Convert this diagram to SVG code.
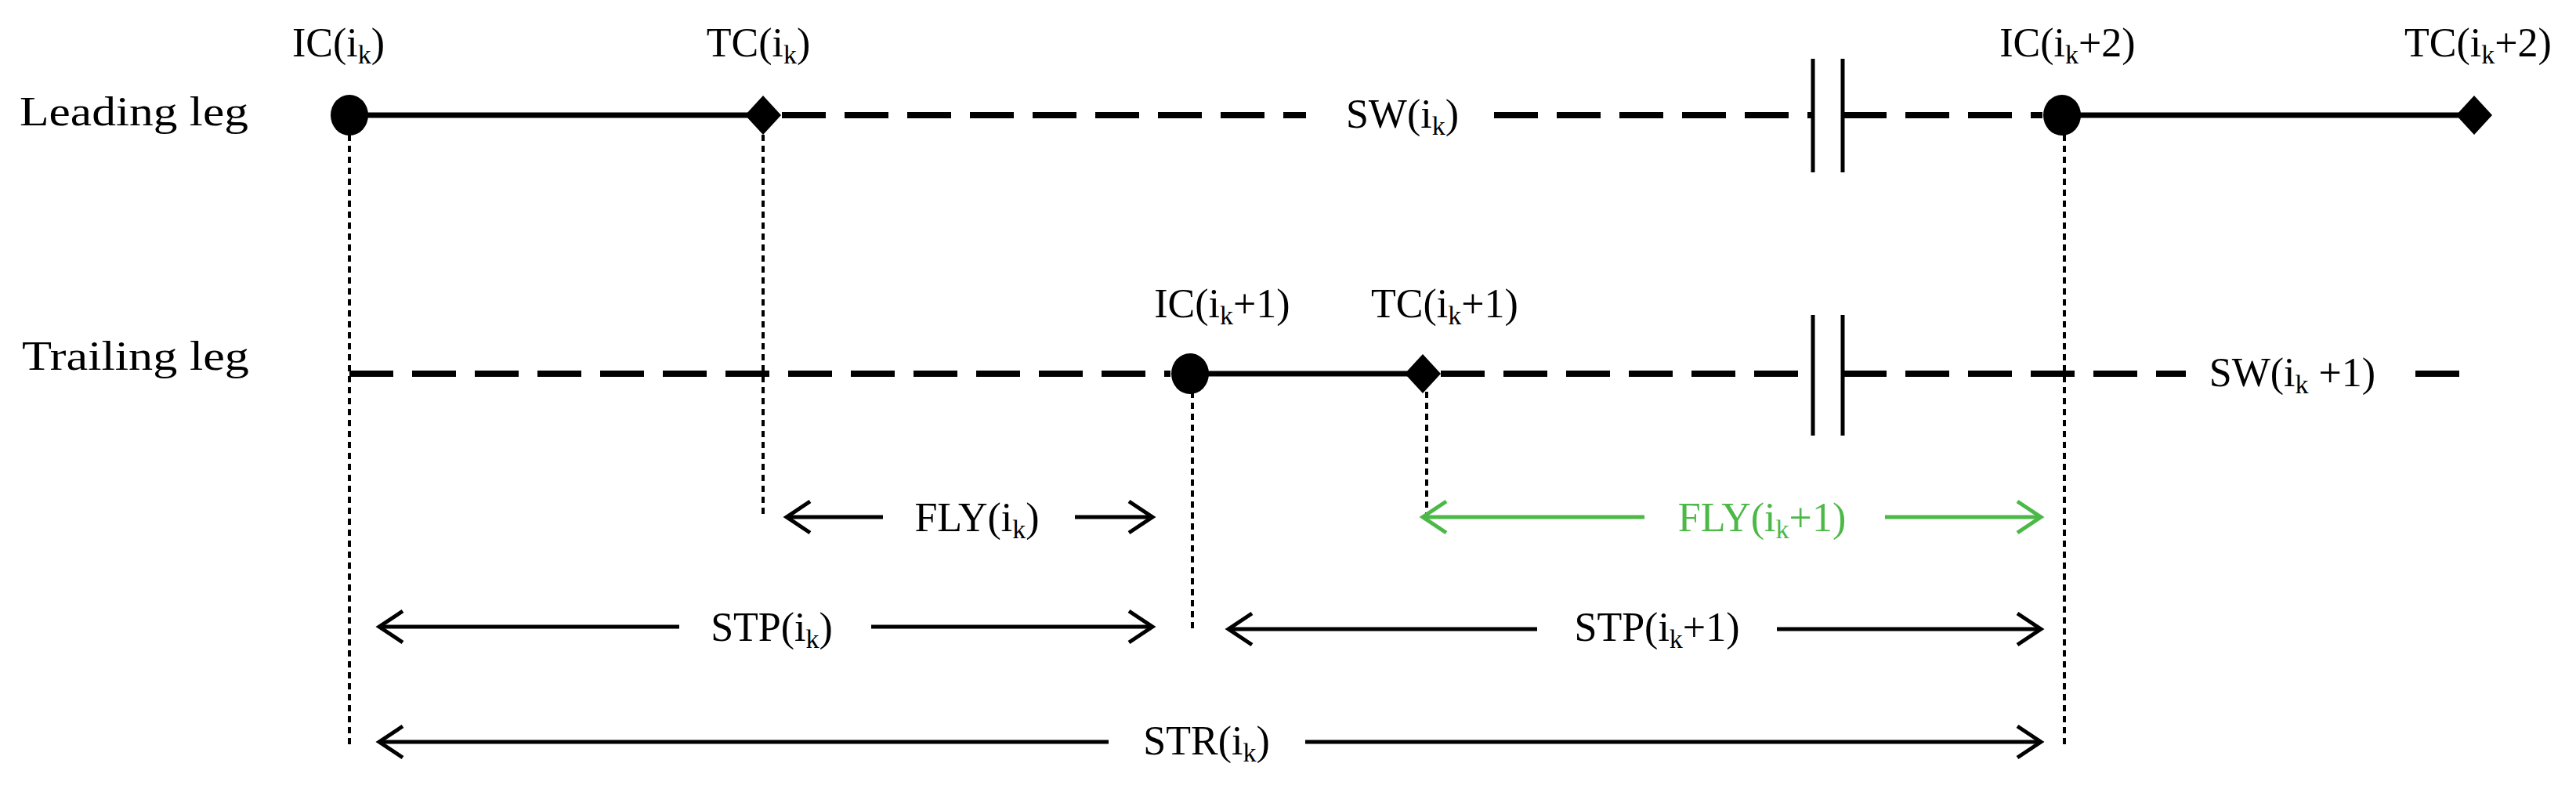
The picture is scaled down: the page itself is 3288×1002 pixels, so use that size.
<svg xmlns="http://www.w3.org/2000/svg" width="3288" height="1002" viewBox="0 0 3288 1002">
<style>
text{font-family:"Liberation Serif",serif;font-size:52px;fill:#000;text-anchor:middle}
.s{font-size:34px}
.solid{stroke:#000;stroke-width:7;fill:none}
.dash{stroke:#000;stroke-width:8;stroke-dasharray:56 24;fill:none}
.dot{stroke:#000;stroke-width:4;stroke-dasharray:8 6;fill:none}
.brk{stroke:#000;stroke-width:5}
.arr{stroke:#000;stroke-width:5;fill:none}
.g{stroke:#4cb847}
.gt{fill:#4cb847}
</style>
<rect width="3288" height="1002" fill="#fff"/>
<g id="labels">
<text x="25" y="160" style="text-anchor:start" textLength="292" lengthAdjust="spacingAndGlyphs">Leading leg</text>
<text x="28" y="472" style="text-anchor:start" textLength="290" lengthAdjust="spacingAndGlyphs">Trailing leg</text>
</g>
<g id="connectors">
<line class="solid" x1="446" y1="147" x2="974" y2="147"/>
<path class="dash" d="M998 147H1667M1907 147H2314M2352 147H2607"/>
<line class="solid" x1="2632" y1="147" x2="3158" y2="147"/>
<path class="dash" d="M446 477H1494M1839 477H2314M2352 477H2790M3083 477H3156"/>
<line class="solid" x1="1519" y1="477" x2="1816" y2="477"/>
<path class="brk" d="M2314 75V220M2352 75V220M2314 402V556M2352 402V556"/>
<path class="dot" d="M446 172V954M974 172V660M1522 500V807M1821 500V660M2635 172V954"/>
<path class="arr" d="M1004 660H1127M1372 660H1471M484 800H867M1112 800H1471M1568 803H1962M2268 803H2605M484 947H1415M1666 947H2605"/>
<path class="arr g" d="M1816 660H2099M2406 660H2605"/>
<path class="arr" d="M1034 640L1004 660L1034 680M1441 640L1471 660L1441 680M514 780L484 800L514 820M1441 780L1471 800L1441 820M1598 783L1568 803L1598 823M2575 783L2605 803L2575 823M514 927L484 947L514 967M2575 927L2605 947L2575 967"/>
<path class="arr g" d="M1846 640L1816 660L1846 680M2575 640L2605 660L2575 680"/>
</g>
<g id="IC_ik"><ellipse cx="446" cy="147" rx="24" ry="26"/><text x="432" y="72">IC(i<tspan class="s" dy="9">k</tspan><tspan dy="-9">)</tspan></text></g>
<g id="TC_ik"><path d="M974 122L997 147L974 172L951 147Z"/><text x="968" y="72">TC(i<tspan class="s" dy="9">k</tspan><tspan dy="-9">)</tspan></text></g>
<g id="SW_ik"><text x="1790" y="163">SW(i<tspan class="s" dy="9">k</tspan><tspan dy="-9">)</tspan></text></g>
<g id="IC_ik2"><ellipse cx="2632" cy="147" rx="24" ry="26"/><text x="2639" y="72">IC(i<tspan class="s" dy="9">k</tspan><tspan dy="-9">+2)</tspan></text></g>
<g id="TC_ik2"><path d="M3158 122L3181 147L3158 172L3135 147Z"/><text x="3163" y="72">TC(i<tspan class="s" dy="9">k</tspan><tspan dy="-9">+2)</tspan></text></g>
<g id="IC_ik1"><ellipse cx="1519" cy="477" rx="24" ry="26"/><text x="1560" y="405">IC(i<tspan class="s" dy="9">k</tspan><tspan dy="-9">+1)</tspan></text></g>
<g id="TC_ik1"><path d="M1816 452L1839 477L1816 502L1793 477Z"/><text x="1844" y="405">TC(i<tspan class="s" dy="9">k</tspan><tspan dy="-9">+1)</tspan></text></g>
<g id="SW_ik1"><text x="2926" y="493">SW(i<tspan class="s" dy="9">k</tspan><tspan dy="-9"> +1)</tspan></text></g>
<g id="FLY_ik"><text x="1247" y="678">FLY(i<tspan class="s" dy="9">k</tspan><tspan dy="-9">)</tspan></text></g>
<g id="FLY_ik1"><text class="gt" x="2249" y="678">FLY(i<tspan class="s" dy="9">k</tspan><tspan dy="-9">+1)</tspan></text></g>
<g id="STP_ik"><text x="985" y="818">STP(i<tspan class="s" dy="9">k</tspan><tspan dy="-9">)</tspan></text></g>
<g id="STP_ik1"><text x="2115" y="818">STP(i<tspan class="s" dy="9">k</tspan><tspan dy="-9">+1)</tspan></text></g>
<g id="STR_ik"><text x="1540" y="963">STR(i<tspan class="s" dy="9">k</tspan><tspan dy="-9">)</tspan></text></g>
</svg>
